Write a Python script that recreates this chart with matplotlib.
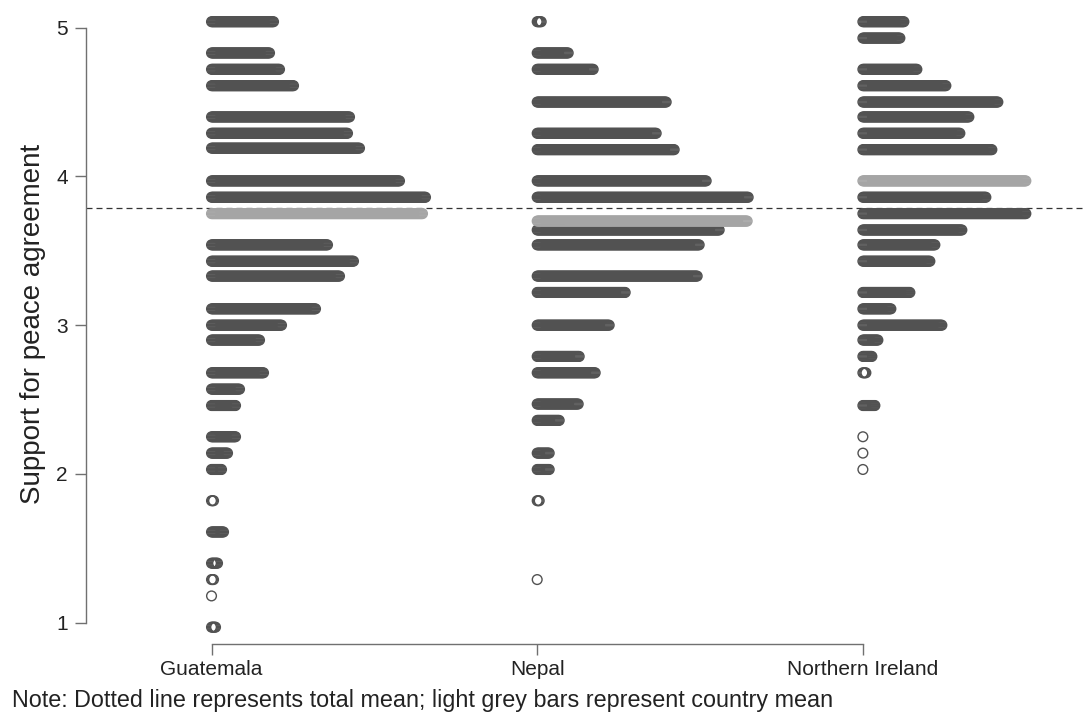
import matplotlib
matplotlib.use('Agg')
import matplotlib.pyplot as plt
import numpy as np

plt.rcParams['font.family'] = ['Liberation Sans', 'DejaVu Sans']

countries = ['Guatemala', 'Nepal', 'Northern Ireland']

# support score levels and number of respondents stacked at each level
gt_vals = [5.04, 4.83, 4.72, 4.61, 4.40, 4.29, 4.19, 3.97, 3.86, 3.54, 3.43, 3.33,
           3.11, 3.00, 2.90, 2.68, 2.57, 2.46, 2.25, 2.14, 2.03, 1.82, 1.61, 1.40,
           1.29, 1.18, 0.97]
gt_counts = [63, 59, 69, 83, 139, 137, 149, 189, 215, 117, 143, 129,
             105, 71, 49, 53, 29, 25, 25, 17, 11, 3, 13, 7,
             3, 1, 5]

np_vals = [5.04, 4.83, 4.72, 4.50, 4.29, 4.18, 3.97, 3.86, 3.64, 3.54, 3.33, 3.22,
           3.00, 2.79, 2.68, 2.47, 2.36, 2.14, 2.03, 1.82, 1.29]
np_counts = [5, 32, 57, 130, 120, 138, 170, 212, 183, 163, 161, 89,
             73, 43, 59, 42, 23, 13, 13, 3, 1]

ni_vals = [5.04, 4.93, 4.72, 4.61, 4.50, 4.40, 4.29, 4.18, 3.86, 3.75, 3.64, 3.54,
           3.43, 3.22, 3.11, 3.00, 2.90, 2.79, 2.68, 2.46, 2.25, 2.14, 2.03]
ni_counts = [42, 38, 55, 84, 136, 107, 98, 130, 124, 164, 100, 73,
             68, 48, 29, 80, 16, 10, 4, 13, 1, 1, 1]

# country means (light grey bars) and overall mean (dashed line)
country_means = [3.75, 3.70, 3.97]
mean_counts = [212, 211, 164]
total_mean = 3.79

note = "Note: Dotted line represents total mean; light grey bars represent country mean"

STEP = 0.00307  # horizontal shift between stacked points

fig = plt.figure(figsize=(10.85, 7.13), dpi=100)
ax = fig.add_axes([86/1085, 69.5/713, 999/1085, 638/713])

ax.axhline(total_mean, color='#333333', lw=0.9, linestyle=(0, (4.8, 3.2)), zorder=1)

def stack(pos, vals, counts, **kw):
    xs, ys = [], []
    for v, n in zip(vals, counts):
        xs.extend(pos + np.arange(n) * STEP)
        ys.extend([v] * n)
    ax.scatter(xs, ys, **kw)

for i, (vals, counts) in enumerate([(gt_vals, gt_counts), (np_vals, np_counts),
                                    (ni_vals, ni_counts)]):
    stack(i + 1, vals, counts, marker='o', s=49, facecolors='none',
          edgecolors='#525252', linewidths=1.0, zorder=2)
    stack(i + 1, [country_means[i]], [mean_counts[i]], marker='o', s=49,
          facecolors='none', edgecolors='#a5a5a5', linewidths=1.0, zorder=3)

ax.set_xlim(0.6146, 3.682)
ax.set_ylim(0.8602, 5.149)

for s in ['top', 'right']:
    ax.spines[s].set_visible(False)
ax.spines['left'].set_bounds(1, 5)
ax.spines['bottom'].set_bounds(1, 3)
for s in ['left', 'bottom']:
    ax.spines[s].set_color('#707070')
    ax.spines[s].set_linewidth(1.0)

ax.set_yticks([1, 2, 3, 4, 5])
ax.set_xticks([1, 2, 3])
ax.set_xticklabels(countries)
ax.tick_params(axis='y', length=8, width=1, color='#707070', labelsize=15,
               pad=5, labelcolor='#222222')
ax.tick_params(axis='x', length=8, width=1, color='#707070', labelsize=15,
               pad=4, labelcolor='#222222')

fig.text(33/1085, 1 - 324/713, 'Support for peace agreement', rotation=90,
         ha='center', va='center', fontsize=20, color='#222222')
fig.text(12/1085, 1 - 700/713, note, ha='left', va='center', fontsize=16.8,
         color='#222222')

fig.savefig('out.png', dpi=100)
